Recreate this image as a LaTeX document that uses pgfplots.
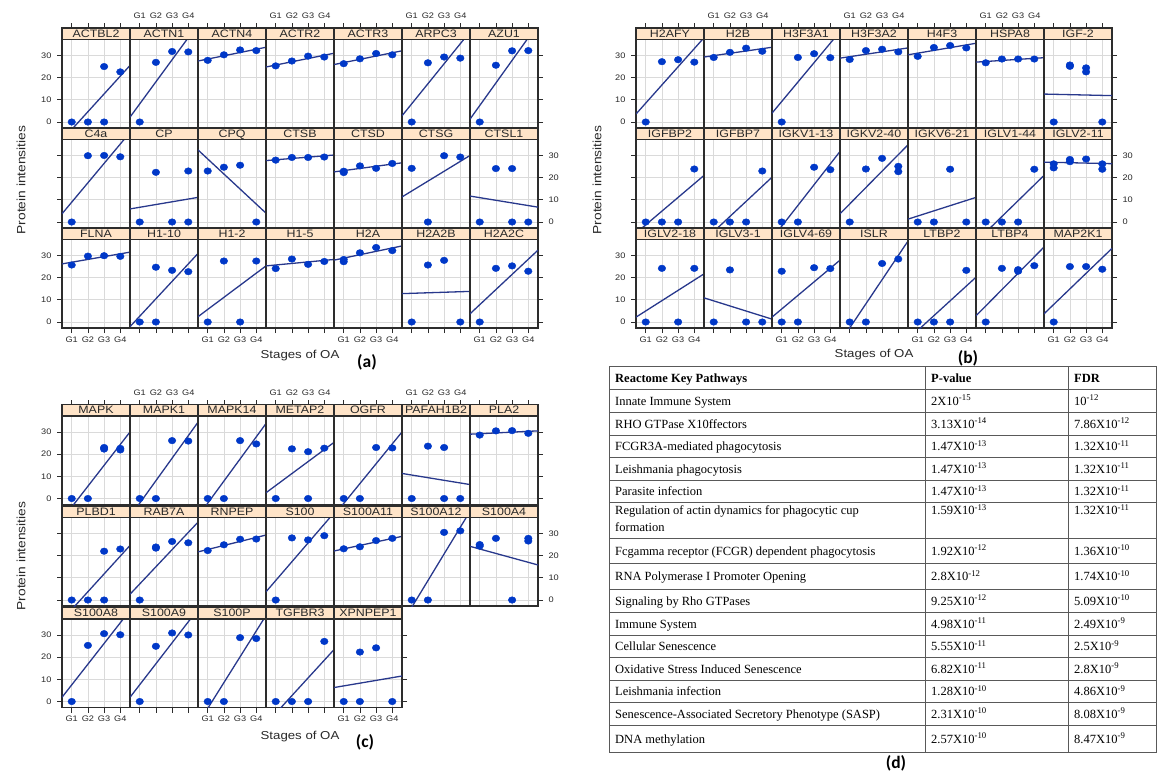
\documentclass[border=0pt]{standalone}
\usepackage{pgfplots}
\pgfplotsset{compat=1.18}
\usepackage{fontspec}
\setmainfont{Liberation Sans}[FakeStretch=1.15]
\newfontfamily\tabfont{Liberation Serif}
\newfontfamily\capfont{Carlito}

\definecolor{ptc}{RGB}{0,56,200}
\definecolor{regc}{RGB}{40,56,140}
\definecolor{stripc}{RGB}{255,228,200}
\definecolor{gridc}{RGB}{218,218,218}
\definecolor{boxc}{RGB}{45,45,45}
\definecolor{txtc}{RGB}{40,40,40}

\pgfplotsset{
  panel/.style={width=68pt, height=88.5pt, scale only axis,
    xmin=0.4, xmax=4.6, ymin=-2.7, ymax=37.2,
    xtick={1,2,3,4}, ytick={0,10,20,30},
    xticklabels={}, yticklabels={},
    xmajorticks=false, ymajorticks=false,
    xtick pos=bottom, ytick pos=left,
    grid=major, major grid style={gridc, line width=0.7pt},
    axis line style={boxc, line width=1.15pt},
    tick align=outside, major tick length=5pt,
    tick style={boxc, line width=0.8pt},
    tick label style={font=\fontsize{8}{9}\selectfont, text=txtc}},
  bl/.style={xmajorticks=true, xticklabels={G1,G2,G3,G4}},
  bt/.style={xmajorticks=true},
  ll/.style={ymajorticks=true, yticklabels={0,10,20,30}, yticklabel style={xshift=-2pt}},
  lt/.style={ymajorticks=true},
  rl/.style={ymajorticks=true, ytick pos=right, yticklabel pos=right,
    yticklabels={0,10,20,30}, yticklabel style={xshift=2pt}},
  rt/.style={ymajorticks=true, ytick pos=right},
}

% one lattice panel: x of left side, y of plot top, name, points, fitted line, tick options
\newcommand{\pan}[6]{%
  \begin{axis}[panel, at={(#1pt,-#2pt)}, anchor=north west, #6]
    \addplot[ptc, only marks, mark=*, mark size=3.3pt, mark options={xscale=1.15}] coordinates {#4};
    \addplot[regc, line width=1.3pt, no marks] coordinates {#5};
  \end{axis}
  \draw[fill=stripc, draw=boxc, line width=1.15pt] (#1pt,-#2pt) rectangle ++(68pt,11.5pt);
  \path (#1pt,-#2pt) ++(34pt,2.2pt) node[anchor=base, inner sep=0pt,
    font=\fontsize{10.8}{11}\selectfont, text=txtc] {#3};
}

% ticks above the strips: x of left side, y of strip top, labels 1/0
\newcommand{\topt}[3]{%
  \foreach \k in {1,2,3,4}{%
    \pgfmathsetmacro{\tx}{#1+(\k-0.4)*68/4.2}%
    \draw[boxc, line width=0.8pt] (\tx pt,-#2pt) -- ++(0,5pt);
    \ifnum#3=1 \node[font=\fontsize{8}{9}\selectfont, text=txtc, anchor=base]
      at (\tx pt,-#2pt+9.5pt) {G\k};\fi
  }}

\newcommand{\trow}[4]{%
  \node[anchor=base west, inner sep=0pt] at (615pt,-#1pt-4.5pt) {#2};
  \node[anchor=base west, inner sep=0pt] at (931pt,-#1pt-4.5pt) {#3};
  \node[anchor=base west, inner sep=0pt] at (1074pt,-#1pt-4.5pt) {#4};}
\newcommand{\e}[1]{\textsuperscript{#1}}

\begin{document}
\begin{tikzpicture}
\path[use as bounding box] (0,0) rectangle (1170pt,-774pt);

% ---------------- (a) ----------------
\pan{62}{39.5}{ACTBL2}{(1,0)(2,0)(3,0)(3,25)(4,22.6)}{(0.4,-8.2)(4.6,25.5)}{ll}
\pan{130}{39.5}{ACTN1}{(1,0)(2,26.9)(3,31.8)(4,31.6)}{(0.4,2.2)(4.6,44)}{}
\pan{198}{39.5}{ACTN4}{(1,27.8)(2,30.3)(3,32.5)(4,32.2)}{(0.4,27.5)(4.6,33.7)}{}
\pan{266}{39.5}{ACTR2}{(1,25.3)(2,27.5)(3,29.7)(4,29.3)}{(0.4,24.8)(4.6,31)}{}
\pan{334}{39.5}{ACTR3}{(1,26.3)(2,28.5)(3,30.9)(4,30.3)}{(0.4,25.9)(4.6,32.1)}{}
\pan{402}{39.5}{ARPC3}{(1,0)(2,26.7)(3,29.3)(4,28.8)}{(0.4,2.8)(4.6,40.7)}{}
\pan{470}{39.5}{AZU1}{(1,0)(2,25.6)(3,32.1)(4,32.2)}{(0.4,1.3)(4.6,44.1)}{rt}

\pan{62}{139.5}{C4a}{(1,0)(2,29.9)(3,30)(4,29.4)}{(0.4,3.7)(4.6,40.4)}{lt}
\pan{130}{139.5}{CP}{(1,0)(2,22.4)(3,0)(4,0)(4,23)}{(0.4,5.9)(4.6,11.1)}{}
\pan{198}{139.5}{CPQ}{(1,23)(2,24.7)(3,25.6)(4,0)}{(0.4,32.5)(4.6,4)}{}
\pan{266}{139.5}{CTSB}{(1,27.9)(2,29.1)(3,29.1)(4,29.3)}{(0.4,27.7)(4.6,30.2)}{}
\pan{334}{139.5}{CTSD}{(1,22.3)(1,22.9)(2,25.3)(3,24.2)(4,26.4)}{(0.4,22.6)(4.6,26.7)}{}
\pan{402}{139.5}{CTSG}{(1,24.2)(2,0)(3,29.9)(4,29.3)}{(0.4,11.3)(4.6,30)}{}
\pan{470}{139.5}{CTSL1}{(1,0)(2,24.1)(3,24.1)(3,0)(4,0)}{(0.4,11.7)(4.6,6.7)}{rl}

\pan{62}{239.5}{FLNA}{(1,25.7)(2,29.7)(3,29.9)(4,29.6)}{(0.4,26.2)(4.6,31.5)}{ll,bl}
\pan{130}{239.5}{H1-10}{(1,0)(2,0)(2,24.7)(3,23.3)(4,22.7)}{(0.4,-2.1)(4.6,30.9)}{bt}
\pan{198}{239.5}{H1-2}{(1,0)(2,27.5)(3,0)(4,27.5)}{(0.4,2.4)(4.6,25.3)}{bl}
\pan{266}{239.5}{H1-5}{(1,24.1)(2,28.4)(3,26)(4,27.3)}{(0.4,25.3)(4.6,28.2)}{bt}
\pan{334}{239.5}{H2A}{(1,28.2)(1,27.2)(2,31.2)(3,33.6)(4,32.2)}{(0.4,27.9)(4.6,34.3)}{bl}
\pan{402}{239.5}{H2A2B}{(1,0)(2,25.7)(3,27.8)(4,0)}{(0.4,12.8)(4.6,13.8)}{bt}
\pan{470}{239.5}{H2A2C}{(1,0)(2,24.2)(3,25.3)(4,22.9)}{(0.4,3.7)(4.6,32.4)}{bl,rt}

\topt{62}{28}{0}\topt{130}{28}{1}\topt{198}{28}{0}\topt{266}{28}{1}
\topt{334}{28}{0}\topt{402}{28}{1}\topt{470}{28}{0}

\node[rotate=90, font=\fontsize{12}{13}\selectfont, text=txtc] at (21pt,-180pt) {Protein intensities};
\node[font=\fontsize{11.5}{12}\selectfont, text=txtc] at (300pt,-356pt) {Stages of OA};
\node[font=\capfont\bfseries\fontsize{17.5}{18}\selectfont] at (367pt,-362pt) {(a)};

% ---------------- (b) ----------------
\pan{636}{39.5}{H2AFY}{(1,0)(2,27.2)(3,28.1)(4,27)}{(0.4,3.6)(4.6,38)}{ll}
\pan{704}{39.5}{H2B}{(1,29.1)(2,31.4)(3,33.3)(4,31.9)}{(0.4,29.3)(4.6,33.7)}{}
\pan{772}{39.5}{H3F3A1}{(1,0)(2,29.1)(3,30.8)(4,29)}{(0.4,4)(4.6,40.8)}{}
\pan{840}{39.5}{H3F3A2}{(1,28.2)(2,32.2)(3,32.8)(4,31.6)}{(0.4,28.8)(4.6,33.4)}{}
\pan{908}{39.5}{H4F3}{(1,29.6)(2,33.6)(3,34.5)(4,33.4)}{(0.4,30.3)(4.6,35.5)}{}
\pan{976}{39.5}{HSPA8}{(1,26.7)(2,28.4)(3,28.4)(4,28.4)}{(0.4,27)(4.6,29)}{}
\pan{1044}{39.5}{IGF-2}{(1,0)(2,25.7)(2,25.1)(3,24.4)(3,22.6)(4,0)}{(0.4,12.6)(4.6,11.9)}{rt}

\pan{636}{139.5}{IGFBP2}{(1,0)(2,0)(3,0)(4,23.9)}{(0.4,-5)(4.6,21)}{lt}
\pan{704}{139.5}{IGFBP7}{(1,0)(2,0)(3,0)(4,23)}{(0.4,-8.4)(4.6,20.2)}{}
\pan{772}{139.5}{IGKV1-13}{(1,0)(2,0)(3,24.7)(4,23.6)}{(0.4,-7.5)(4.6,31.8)}{}
\pan{840}{139.5}{IGKV2-40}{(1,0)(2,23.9)(3,28.7)(4,25.1)(4,22.7)}{(0.4,3.7)(4.6,34.8)}{}
\pan{908}{139.5}{IGKV6-21}{(1,0)(2,0)(3,23.8)(4,0)}{(0.4,1.3)(4.6,11.1)}{}
\pan{976}{139.5}{IGLV1-44}{(1,0)(2,0)(3,0)(4,23.8)}{(0.4,-8.9)(4.6,21)}{}
\pan{1044}{139.5}{IGLV2-11}{(1,26.2)(1,24.4)(2,28.2)(2,27.2)(3,28.4)(4,26.2)(4,23.8)}{(0.4,27)(4.6,26.3)}{rl}

\pan{636}{239.5}{IGLV2-18}{(1,0)(2,24.2)(3,0)(4,24.2)}{(0.4,2.2)(4.6,21.7)}{ll,bl}
\pan{704}{239.5}{IGLV3-1}{(1,0)(2,23.5)(3,0)(4,0)}{(0.4,10.9)(4.6,1.3)}{bt}
\pan{772}{239.5}{IGLV4-69}{(1,0)(1,22.9)(2,0)(3,24.5)(4,24.1)}{(0.4,2.2)(4.6,27.9)}{bl}
\pan{840}{239.5}{ISLR}{(1,0)(2,0)(3,26.4)(4,28.4)}{(0.4,-9.2)(4.6,36.5)}{bt}
\pan{908}{239.5}{LTBP2}{(1,0)(2,0)(3,0)(4,23.3)}{(0.4,-7.8)(4.6,20.2)}{bl}
\pan{976}{239.5}{LTBP4}{(1,0)(2,24.2)(3,23.6)(3,22.9)(4,25.4)}{(0.4,2.8)(4.6,33.8)}{bt}
\pan{1044}{239.5}{MAP2K1}{(1,0)(2,25)(3,25)(4,23.8)}{(0.4,3.7)(4.6,33.2)}{bl,rt}

\topt{636}{28}{0}\topt{704}{28}{1}\topt{772}{28}{0}\topt{840}{28}{1}
\topt{908}{28}{0}\topt{976}{28}{1}\topt{1044}{28}{0}

\node[rotate=90, font=\fontsize{12}{13}\selectfont, text=txtc] at (597pt,-180pt) {Protein intensities};
\node[font=\fontsize{11.5}{12}\selectfont, text=txtc] at (874pt,-355pt) {Stages of OA};
\node[font=\capfont\bfseries\fontsize{17.5}{18}\selectfont] at (968pt,-358pt) {(b)};

% ---------------- (c) ----------------
\pan{62}{416}{MAPK}{(1,0)(2,0)(3,23)(3,22.3)(4,22.6)(4,21.9)}{(0.4,-9.5)(4.6,30)}{ll}
\pan{130}{416}{MAPK1}{(1,0)(2,0)(3,26.1)(4,25.9)}{(0.4,-8.2)(4.6,34.4)}{}
\pan{198}{416}{MAPK14}{(1,0)(2,0)(3,26.1)(4,24.6)}{(0.4,-8.1)(4.6,33.8)}{}
\pan{266}{416}{METAP2}{(1,0)(2,22.4)(3,21.1)(3,0)(4,22.7)}{(0.4,2.6)(4.6,25.3)}{}
\pan{334}{416}{OGFR}{(1,0)(2,0)(3,23)(4,22.8)}{(0.4,-7.6)(4.6,30)}{}
\pan{402}{416}{PAFAH1B2}{(1,0)(2,23.6)(3,23)(3,0)(4,0)}{(0.4,11.3)(4.6,6.3)}{}
\pan{470}{416}{PLA2}{(1,28.6)(2,30.5)(3,30.6)(4,29.4)}{(0.4,29)(4.6,30.5)}{rt}

\pan{62}{517.5}{PLBD1}{(1,0)(2,0)(3,0)(3,22)(4,23)}{(0.4,-9.1)(4.6,24.6)}{lt}
\pan{130}{517.5}{RAB7A}{(1,0)(2,23.9)(2,23.4)(3,26.4)(4,25.8)}{(0.4,2.6)(4.6,35.1)}{}
\pan{198}{517.5}{RNPEP}{(1,22.3)(2,24.9)(3,27.4)(4,27.5)}{(0.4,21.7)(4.6,29.3)}{}
\pan{266}{517.5}{S100}{(1,0)(2,28)(3,27.1)(4,29)}{(0.4,3.7)(4.6,39.3)}{}
\pan{334}{517.5}{S100A11}{(1,23.1)(2,24)(3,26.8)(4,27.8)}{(0.4,22.1)(4.6,28.7)}{}
\pan{402}{517.5}{S100A12}{(1,0)(2,0)(3,30.5)(4,31.2)}{(0.4,-10.5)(4.6,40)}{}
\pan{470}{517.5}{S100A4}{(1,25)(1,24.3)(2,27.8)(3,0)(4,27.8)(4,26.6)}{(0.4,24.2)(4.6,15.8)}{rl}

\pan{62}{619}{S100A8}{(1,0)(2,25.3)(3,30.6)(4,30.1)}{(0.4,1.9)(4.6,41.1)}{ll,bl}
\pan{130}{619}{S100A9}{(1,0)(2,24.9)(3,30.9)(4,30)}{(0.4,1.9)(4.6,41.6)}{bt}
\pan{198}{619}{S100P}{(1,0)(2,0)(3,28.8)(4,28.4)}{(0.4,-10.1)(4.6,38.8)}{bl}
\pan{266}{619}{TGFBR3}{(1,0)(2,0)(3,0)(4,27.1)}{(0.4,-10.1)(4.6,23.4)}{bt}
\pan{334}{619}{XPNPEP1}{(1,0)(2,22.3)(2,0)(3,24.2)(4,0)}{(0.4,6.3)(4.6,11.5)}{bl,rt}

\topt{62}{404.5}{0}\topt{130}{404.5}{1}\topt{198}{404.5}{0}\topt{266}{404.5}{1}
\topt{334}{404.5}{0}\topt{402}{404.5}{1}\topt{470}{404.5}{0}

\node[rotate=90, font=\fontsize{12}{13}\selectfont, text=txtc] at (21pt,-556pt) {Protein intensities};
\node[font=\fontsize{11.5}{12}\selectfont, text=txtc] at (300pt,-737pt) {Stages of OA};
\node[font=\capfont\bfseries\fontsize{17.5}{18}\selectfont] at (365pt,-742pt) {(c)};

% ---------------- (d) table ----------------
\begin{scope}[draw=black!65, line width=0.8pt]
  \draw (609pt,-366pt) rectangle (1156pt,-752pt);
  \draw (925pt,-366pt) -- (925pt,-752pt);
  \draw (1068pt,-366pt) -- (1068pt,-752pt);
  \foreach \yy in {389,412,435,457,480,502,538,563,589,612,635,657,680,702,725}
    \draw (609pt,-\yy pt) -- (1156pt,-\yy pt);
\end{scope}
\begin{scope}[font=\tabfont\fontsize{12.5}{14}\selectfont]
  \trow{377.5}{\bfseries Reactome Key Pathways}{\bfseries P-value}{\bfseries FDR}
  \trow{400.5}{Innate Immune System}{2X10\e{-15}}{10\e{-12}}
  \trow{423.5}{RHO GTPase X10ffectors}{3.13X10\e{-14}}{7.86X10\e{-12}}
  \trow{446}{FCGR3A-mediated phagocytosis}{1.47X10\e{-13}}{1.32X10\e{-11}}
  \trow{468.5}{Leishmania phagocytosis}{1.47X10\e{-13}}{1.32X10\e{-11}}
  \trow{491}{Parasite infection}{1.47X10\e{-13}}{1.32X10\e{-11}}
  \trow{510}{Regulation of actin dynamics for phagocytic cup}{1.59X10\e{-13}}{1.32X10\e{-11}}
  \node[anchor=base west, inner sep=0pt] at (615pt,-531.5pt) {formation};
  \trow{550.5}{Fcgamma receptor (FCGR) dependent phagocytosis}{1.92X10\e{-12}}{1.36X10\e{-10}}
  \trow{576}{RNA Polymerase I Promoter Opening}{2.8X10\e{-12}}{1.74X10\e{-10}}
  \trow{600.5}{Signaling by Rho GTPases}{9.25X10\e{-12}}{5.09X10\e{-10}}
  \trow{623.5}{Immune System}{4.98X10\e{-11}}{2.49X10\e{-9}}
  \trow{646}{Cellular Senescence}{5.55X10\e{-11}}{2.5X10\e{-9}}
  \trow{668.5}{Oxidative Stress Induced Senescence}{6.82X10\e{-11}}{2.8X10\e{-9}}
  \trow{691}{Leishmania infection}{1.28X10\e{-10}}{4.86X10\e{-9}}
  \trow{713.5}{Senescence-Associated Secretory Phenotype (SASP)}{2.31X10\e{-10}}{8.08X10\e{-9}}
  \trow{738.5}{DNA methylation}{2.57X10\e{-10}}{8.47X10\e{-9}}
\end{scope}
\node[font=\capfont\bfseries\fontsize{17.5}{18}\selectfont] at (896pt,-763pt) {(d)};
\end{tikzpicture}
\end{document}
